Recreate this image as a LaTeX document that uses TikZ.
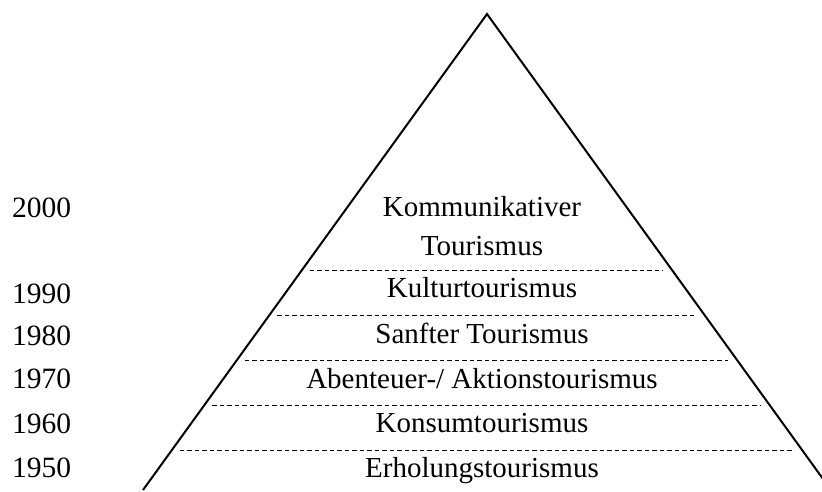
\documentclass[tikz,border=0pt]{standalone}
\usepackage{fontspec}
\setmainfont{Liberation Serif}
\usetikzlibrary{calc,positioning}

\begin{document}
\begin{tikzpicture}[x=1pt,y=-1pt,
		year/.style={anchor=base west,inner sep=0pt,font=\fontsize{29.5}{32}\selectfont},
		stage/.style={anchor=base,inner sep=0pt,font=\fontsize{29}{32}\selectfont},
		sep/.style={dash pattern=on 4.5pt off 3pt,line width=1pt}]
				\useasboundingbox (0,0) rectangle (822,491);
				\clip (0,0) rectangle (822,491);
				\coordinate (apex) at (487,14);
				\coordinate (baseL) at (143,490);
				\coordinate (baseR) at (831,490);
				\draw[line width=2pt] (baseL) -- (apex) -- (baseR);
				\foreach \y in {270,315,360,405,450}
					\draw[sep] ({487-(\y-14)*0.7227+8},\y) -- ({487+(\y-14)*0.7227-9},\y);
				% stages
				\node[stage] (s2000a) at (482,216) {Kommunikativer};
				\node[stage] (s2000b) at (482,255) {Tourismus};
				\node[stage] (s1990) at (482,297) {Kulturtourismus};
				\node[stage] (s1980) at (482,343) {Sanfter Tourismus};
				\node[stage] (s1970) at (482,388) {Abenteuer-/ Aktionstourismus};
				\node[stage] (s1960) at (482,432) {Konsumtourismus};
				\node[stage] (s1950) at (482,477) {Erholungstourismus};
				% years
				\node[year] (y2000) at (12,217) {2000};
				\node[year] (y1990) at (12,303) {1990};
				\node[year] (y1980) at (12,345) {1980};
				\node[year] (y1970) at (12,388) {1970};
				\node[year] (y1960) at (12,433) {1960};
				\node[year] (y1950) at (12,477) {1950};
			\end{tikzpicture}
\end{document}
